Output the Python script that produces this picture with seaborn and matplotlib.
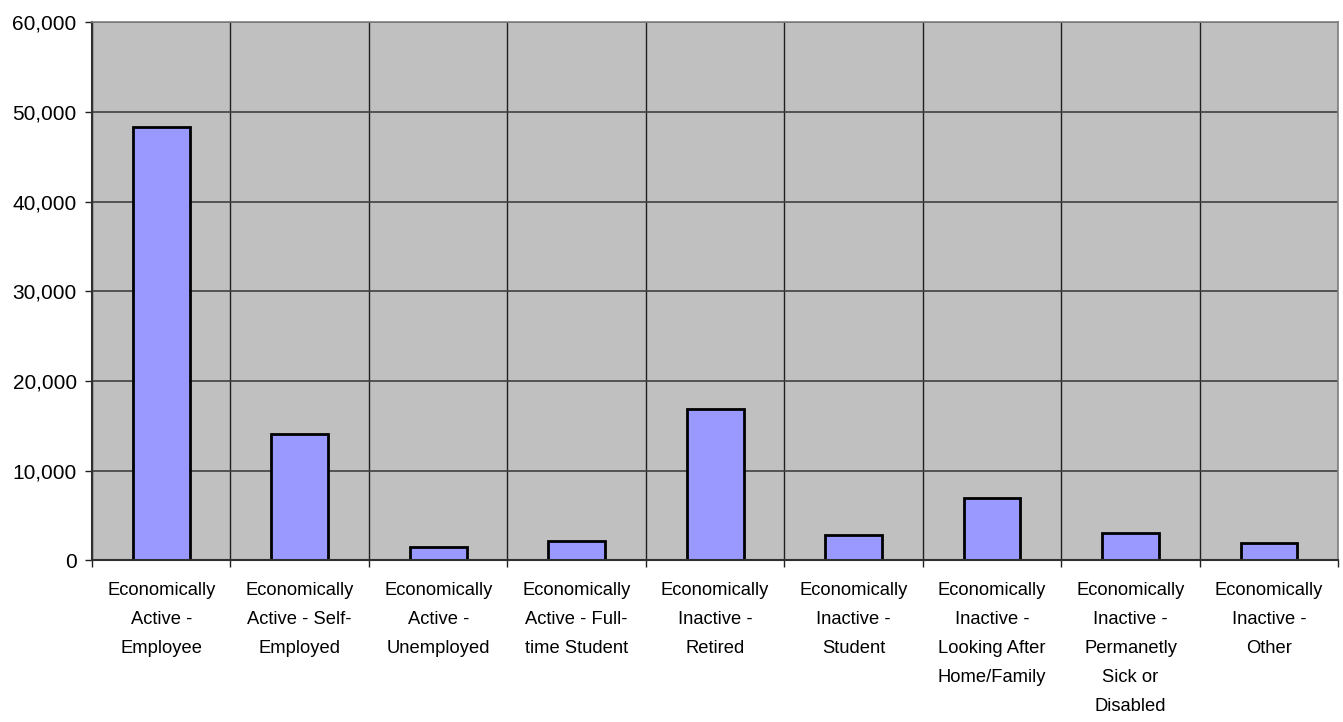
import numpy as np
import pandas as pd
import matplotlib
matplotlib.use("Agg")
import matplotlib.pyplot as plt
import seaborn as sns
from matplotlib.ticker import FuncFormatter, MultipleLocator

# datos del grafico
categorias = [
    "Economically\nActive -\nEmployee",
    "Economically\nActive - Self-\nEmployed",
    "Economically\nActive -\nUnemployed",
    "Economically\nActive - Full-\ntime Student",
    "Economically\nInactive -\nRetired",
    "Economically\nInactive -\nStudent",
    "Economically\nInactive -\nLooking After\nHome/Family",
    "Economically\nInactive -\nPermanetly\nSick or\nDisabled",
    "Economically\nInactive -\nOther",
]
valores = [48340, 14050, 1520, 2190, 16900, 2850, 6910, 3080, 1960]
y_ticks = [0, 10000, 20000, 30000, 40000, 50000, 60000]

sns.set_style("white")
plt.rcParams['font.family'] = ['Liberation Sans', 'DejaVu Sans']

df = pd.DataFrame({'categoria': categorias, 'valor': valores})

fig = plt.figure(figsize=(13.43, 7.22), dpi=100)
ax = fig.add_axes([0.0685, 0.224, 0.928, 0.745])
ax.set_facecolor('#C0C0C0')

sns.barplot(data=df, x='categoria', y='valor', ax=ax, color='#9999FF',
            width=0.41, edgecolor='black', linewidth=2, saturation=1)

ax.set_xlim(-0.5, len(categorias) - 0.5)
ax.set_ylim(0, 60000)
ax.set_yticks(y_ticks)
ax.yaxis.set_major_formatter(FuncFormatter(lambda v, p: f"{int(v):,}"))

# lineas verticales entre categorias
ax.xaxis.set_minor_locator(MultipleLocator(1, offset=0.5))
ax.grid(axis='y', which='major', color='#404040', linewidth=1.2)
ax.grid(axis='x', which='minor', color='#202020', linewidth=1)
ax.set_axisbelow(True)

ax.tick_params(axis='x', which='major', length=0, pad=16, labelsize=13.2, labelcolor='black')
ax.tick_params(axis='x', which='minor', length=5, width=1, color='#202020', direction='out', bottom=True)
ax.tick_params(axis='y', length=5, width=1, color='#202020', direction='out', left=True, labelsize=15, pad=6, labelcolor='black')
for lab in ax.get_xticklabels():
    lab.set_linespacing(1.92)

ax.set_xlabel("")
ax.set_ylabel("")

for s in ['left', 'bottom']:
    ax.spines[s].set_color('#303030')
    ax.spines[s].set_linewidth(1.5)
for s in ['top', 'right']:
    ax.spines[s].set_color('#808080')
    ax.spines[s].set_linewidth(1.2)

fig.savefig("out.png", dpi=100)
